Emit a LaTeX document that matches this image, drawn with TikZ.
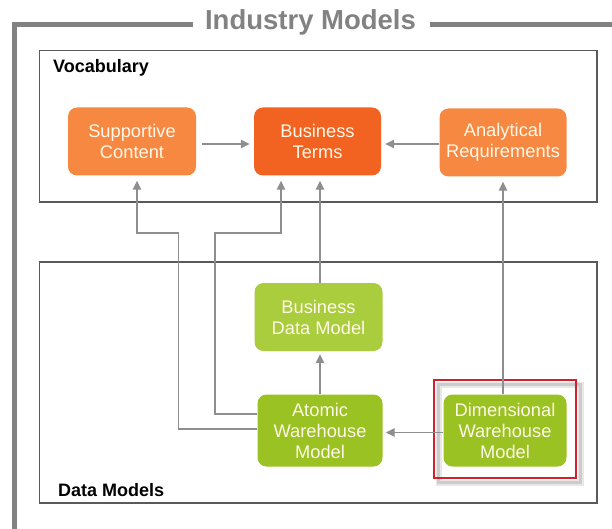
\documentclass[tikz,border=0pt]{standalone}
\usepackage{fontspec}
\setmainfont{Liberation Sans}
\usetikzlibrary{arrows.meta,calc}
\definecolor{framegray}{HTML}{828282}
\definecolor{boxline}{HTML}{5A5A5A}
\definecolor{orangeA}{HTML}{F68842}
\definecolor{orangeB}{HTML}{F26322}
\definecolor{greenA}{HTML}{A9CD3D}
\definecolor{greenB}{HTML}{99C222}
\definecolor{arrowgray}{HTML}{8E8E8E}
\definecolor{redbox}{HTML}{D2202C}
\definecolor{softtext}{HTML}{FFF8E8}
\begin{document}
\begin{tikzpicture}[x=1pt,y=-1pt,
  panel/.style={draw=boxline,line width=1.6pt},
  blk/.style={rounded corners=9pt,align=center,text=softtext,
    font=\fontsize{18.3}{21}\selectfont,inner sep=0pt},
  conn/.style={draw=arrowgray,line width=1.3pt,
    -{Triangle[length=9pt,width=8.5pt]}},
  paneltitle/.style={font=\fontsize{18}{21}\selectfont\bfseries,anchor=base west,inner sep=0pt}
]
\useasboundingbox (0,0) rectangle (612,529);
% outer frame
\draw[framegray,line width=5.5pt,line join=miter] (193,24.5) -- (14.5,24.5) -- (14.5,535);
\draw[framegray,line width=5.5pt] (430,24.5) -- (615,24.5);
\node[text=framegray,font=\fontsize{27.5}{30}\selectfont\bfseries,inner sep=0pt] (title) at (310.5,22.5) {Industry Models};
% panels
\draw[panel] (39.5,50.5) rectangle (597,202);
\draw[panel] (39.5,262) rectangle (597,503);
\node[paneltitle] (voc) at (53,73) {Vocabulary};
\node[paneltitle] (dm) at (58,496) {Data Models};
% highlight shadow
\draw[black!9,line width=6pt] (439,385) rectangle (581,483);
\draw[black!20,line width=3pt] (438.5,384.5) rectangle (580.5,482.5);
% vocabulary boxes
\node[blk,fill=orangeA,minimum width=128pt,minimum height=68pt] (sc) at (132,141.5) {Supportive\\Content};
\node[blk,fill=orangeB,minimum width=127pt,minimum height=68pt] (bt) at (317.5,141.5) {Business\\Terms};
\node[blk,fill=orangeA,minimum width=127pt,minimum height=68pt] (ar) at (503,142.5) {Analytical\\Requirements};
% data model boxes
\node[blk,fill=greenA,minimum width=128pt,minimum height=68pt] (bdm) at (318.5,317) {Business\\Data Model};
\node[blk,fill=greenB,minimum width=125pt,minimum height=72pt] (awm) at (320,430.5) {Atomic\\Warehouse\\Model};
\node[blk,fill=greenB,minimum width=123pt,minimum height=72pt] (dwm) at (505,430.5) {Dimensional\\Warehouse\\Model};
% highlight frame
\draw[redbox,line width=2pt] (434,380) rectangle (576,478);
% connectors
\draw[conn,shorten <=6pt,shorten >=4pt] (sc.east |- 0,144) -- (bt.west |- 0,144);
\draw[conn,shorten >=4pt] (ar.west |- 0,144) -- (bt.east |- 0,144);
\draw[conn,shorten >=5pt] (bdm.north -| 320,0) -- (bt.south -| 320,0);
\draw[conn,shorten >=3pt] (awm.north -| 320,0) -- (bdm.south -| 320,0);
\draw[conn,shorten >=3pt] (dwm.west |- 0,432.5) -- (awm.east |- 0,432.5);
\draw[conn,shorten >=5pt] (dwm.north -| 503,0) -- (ar.south -| 503,0);
\coordinate (k1) at (215,233);
\coordinate (k2) at (178.5,233);
\draw[conn,shorten >=5pt] (awm.west |- 0,414) -| (k1) -| (bt.south -| 281,0);
\draw[conn,shorten >=5pt] (awm.west |- 0,429) -| (k2) -| (sc.south -| 137,0);
\end{tikzpicture}
\end{document}
